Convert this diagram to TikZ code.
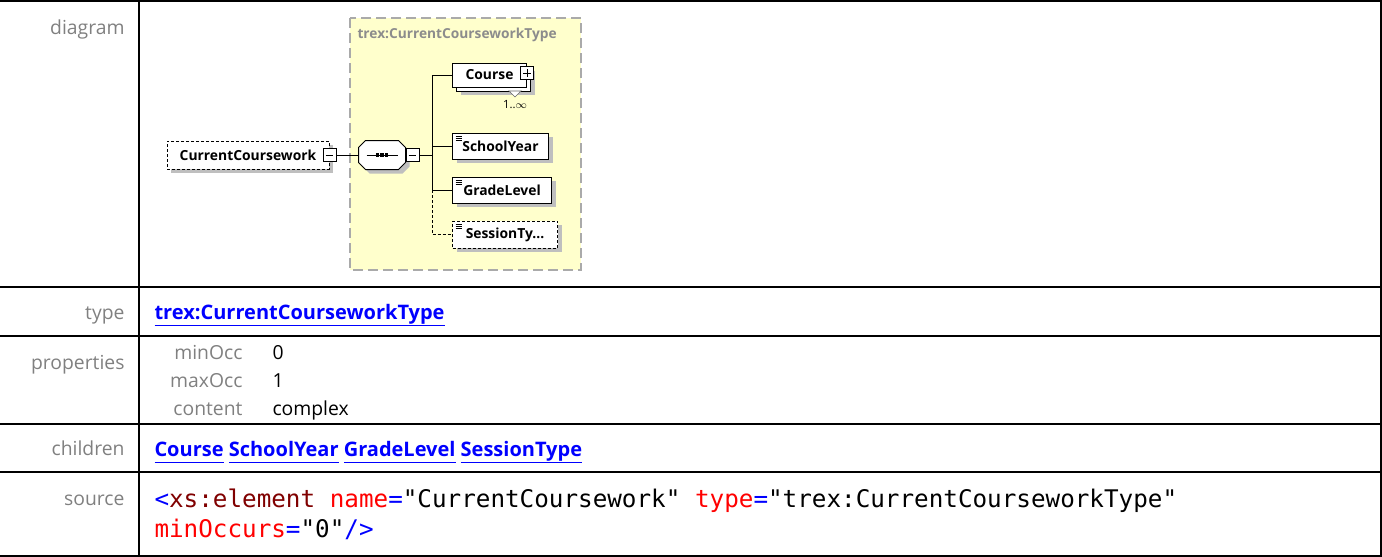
\documentclass[tikz,border=0pt]{standalone}
\usepackage{fontspec}
\setmainfont{Open Sans}
\setmonofont{DejaVu Sans Mono}
\usetikzlibrary{positioning,calc,shadows}

\definecolor{typeyellow}{RGB}{255,255,204}
\definecolor{typeedge}{RGB}{170,170,170}
\definecolor{labelgray}{RGB}{128,128,128}
\definecolor{linkblue}{RGB}{0,0,255}
\definecolor{tagred}{RGB}{128,0,0}
\definecolor{attrred}{RGB}{255,0,0}

\newcommand{\lnk}[1]{\underline{#1\vphantom{gy}}}

\begin{document}
\begin{tikzpicture}[x=0.75pt, y=-0.75pt, line width=0.75pt,
  tableline/.style={line width=1.5pt},
  rowlabel/.style={anchor=base east, inner sep=0pt, text=labelgray,
    font=\fontsize{14.5}{17}\selectfont},
  propvalue/.style={anchor=base west, inner sep=0pt,
    font=\fontsize{14.5}{17}\selectfont},
  link/.style={anchor=base west, inner sep=0pt, text=linkblue,
    font=\fontsize{15}{18}\selectfont\bfseries},
  code/.style={anchor=base west, inner sep=0pt,
    font=\fontsize{18.2}{22}\selectfont\ttfamily},
  typename/.style={anchor=west, inner sep=0pt, text=black!45,
    font=\fontsize{10.3}{12}\selectfont\bfseries},
  elem/.style={draw, fill=white, inner sep=0pt,
    font=\fontsize{10.4}{12}\selectfont\bfseries},
  optional/.style={dash pattern=on 2.25pt off 1.5pt},
  boxshadow/.style={drop shadow={shadow xshift=3pt, shadow yshift=-3pt,
    fill=black!25, opacity=1}},
  stacked/.style={drop shadow={shadow xshift=6pt, shadow yshift=-6pt,
    fill=black!25, opacity=1},
    copy shadow={shadow xshift=3pt, shadow yshift=-3pt, draw=black, fill=white}},
  leaf/.style={path picture={
    \foreach \k in {1,2,3}
      \draw[solid, line width=0.5pt]
        ([shift={(2.25pt,-0.75pt-1.5pt*\k)}]path picture bounding box.north west)
        -- ++(4.5pt,0);}},
  collapse/.style={draw, fill=white, minimum size=9.75pt, inner sep=0pt,
    path picture={\draw ([xshift=2pt]path picture bounding box.west)
      -- ([xshift=-2pt]path picture bounding box.east);}},
  expand/.style={draw, fill=white, minimum size=9.75pt, inner sep=0pt,
    path picture={\draw ([xshift=2pt]path picture bounding box.west)
      -- ([xshift=-2pt]path picture bounding box.east);
      \draw ([yshift=2pt]path picture bounding box.south)
      -- ([yshift=-2pt]path picture bounding box.north);}},
]
  \useasboundingbox (0,0) rectangle (1382,557);

  % Table rules
  \draw[tableline] (0,1) -- (1382,1);
  \foreach \y in {287,336,424,472}
    \draw[tableline] (0,\y) -- (1382,\y);
  \draw[tableline] (0,555.5) -- (1382,555.5);
  \draw[tableline] (139,0) -- (139,557);
  \draw[tableline] (1380.5,0) -- (1380.5,557);

  % Row labels
  \node[rowlabel] (lbldiagram) at (125,34) {diagram};
  \node[rowlabel] (lbltype) at (125,319) {type};
  \node[rowlabel] (lblprops) at (125,369) {properties};
  \node[rowlabel] (lblchildren) at (125,455) {children};
  \node[rowlabel] (lblsource) at (125,505) {source};

  % Type box
  \draw[typeedge, fill=typeyellow, line width=1.1pt,
    dash pattern=on 7.5pt off 3.75pt] (350,18) rectangle (581,270);
  \node[typename] (typename) at (357,35) {trex:CurrentCourseworkType};

  % Root element
  \node[elem, optional, boxshadow, minimum width=121.5pt, minimum height=21pt]
    (root) at (248,155) {CurrentCoursework};
  \node[collapse] (rootbox) at (root.east) {};

  % Sequence
  \node[minimum width=34.5pt, minimum height=21pt, inner sep=0pt]
    (seq) at (382,155) {};
  \draw[fill=white, boxshadow]
    ([xshift=5.25pt]seq.north west) -- ([xshift=-5.25pt]seq.north east)
    -- ([yshift=-5.25pt]seq.north east) -- ([yshift=5.25pt]seq.south east)
    -- ([xshift=-5.25pt]seq.south east) -- ([xshift=5.25pt]seq.south west)
    -- ([yshift=5.25pt]seq.south west) -- ([yshift=-5.25pt]seq.north west)
    -- cycle;
  \draw ([xshift=6pt]seq.west) -- ([xshift=-6pt]seq.east);
  \foreach \d in {-3.2,0,3.2}
    \fill ([xshift=\d pt]seq.center) +(-1.3pt,-1.3pt) rectangle +(1.3pt,1.3pt);
  \node[collapse, right=0pt of seq] (seqbox) {};

  % Children
  \node[elem, stacked, minimum width=55.5pt, minimum height=18pt, anchor=west]
    (course) at (452,75) {Course};
  \node[expand] (coursebox) at ([yshift=1.5pt]course.east) {};
  \draw[black!60, fill=white, line width=0.5pt]
    (509,91) -- (515,97) -- (521,91) -- cycle;
  \node[inner sep=0pt, font=\fontsize{8.5}{10}\selectfont]
    (courseocc) at (515,105) {1..$\infty$};
  \node[elem, leaf, boxshadow, minimum width=72pt, minimum height=19.5pt,
    anchor=west] (schoolyear) at (452,146) {SchoolYear};
  \node[elem, leaf, boxshadow, minimum width=74.25pt, minimum height=19.5pt,
    anchor=west] (gradelevel) at (452,190) {GradeLevel};
  \node[elem, leaf, optional, boxshadow, minimum width=78.75pt,
    minimum height=20.25pt, anchor=west] (sessiontype) at (452,234.5)
    {SessionTy...};

  % Connectors
  \coordinate (trunk) at (432,155);
  \draw (rootbox) -- (seq);
  \draw (seqbox) -- (trunk);
  \draw (trunk) |- (course.west);
  \draw (trunk) |- (schoolyear.west);
  \draw (trunk) |- (gradelevel.west);
  \draw[optional] (trunk |- gradelevel.west) |- (sessiontype.west);

  % Type
  \node[link] (typelink) at (154,319) {\lnk{trex:CurrentCourseworkType}};

  % Properties
  \node[rowlabel] (minocc) at (243,359) {minOcc};
  \node[propvalue] (minoccval) at (272,359) {0};
  \node[rowlabel] (maxocc) at (243,387) {maxOcc};
  \node[propvalue] (maxoccval) at (272,387) {1};
  \node[rowlabel] (content) at (243,415) {content};
  \node[propvalue] (contentval) at (272,415) {complex};

  % Children links
  \node[link] (childlinks) at (154,456)
    {\lnk{Course} \lnk{SchoolYear} \lnk{GradeLevel} \lnk{SessionType}};

  % Source
  \node[code] (srcone) at (154,507)
    {\textcolor{linkblue}{<}\textcolor{tagred}{xs:element}
     \textcolor{attrred}{name}\textcolor{linkblue}{=}"CurrentCoursework"
     \textcolor{attrred}{type}\textcolor{linkblue}{=}"trex:CurrentCourseworkType"};
  \node[code] (srctwo) at (154,537)
    {\textcolor{attrred}{minOccurs}\textcolor{linkblue}{=}"0"\textcolor{linkblue}{/>}};
\end{tikzpicture}
\end{document}
